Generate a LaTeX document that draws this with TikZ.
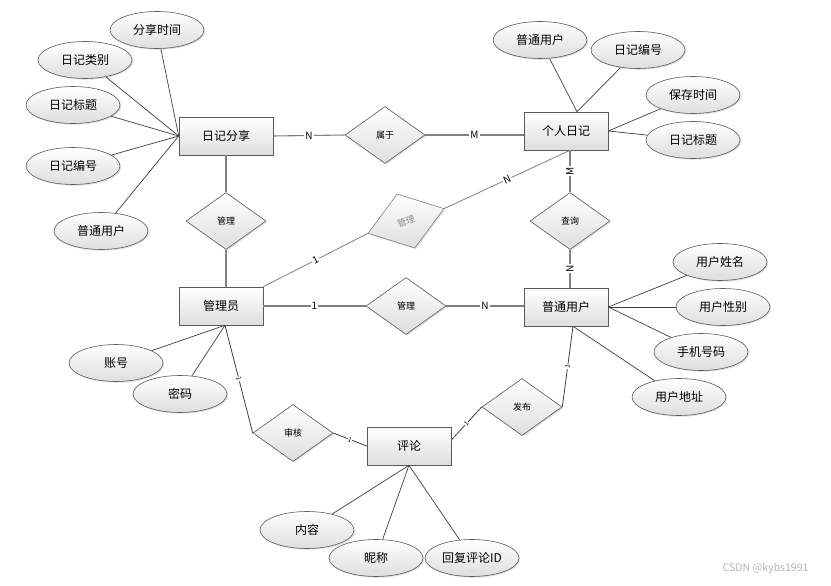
\documentclass[tikz,border=0pt]{standalone}
\usepackage{fontspec}
\setmainfont{Noto Sans CJK SC}
\usepackage{xcolor}
\definecolor{cLine}{HTML}{3F3F3F}
\definecolor{cRel}{HTML}{808080}
\definecolor{cEdge}{HTML}{5A5A5A}
\definecolor{cShade}{HTML}{DEDEDE}
\definecolor{cMark}{HTML}{8C8C8C}
\definecolor{cWater}{HTML}{B4B4B4}
\usepackage{tikz}
\usetikzlibrary{shapes.geometric,shadows}
\tikzset{
  node-entity/.style={draw=cEdge,semithick,rectangle,top color=white,bottom color=cShade,
    minimum width=84pt,minimum height=38pt,font=\fontsize{12}{14}\selectfont,
    drop shadow={shadow xshift=1.2pt,shadow yshift=-1.2pt,opacity=0.25}},
  node-attr/.style={draw=cEdge,semithick,ellipse,top color=white,bottom color=cShade,
    minimum width=94pt,minimum height=37pt,inner sep=0pt,font=\fontsize{12}{14}\selectfont,
    drop shadow={shadow xshift=1.2pt,shadow yshift=-1.2pt,opacity=0.25}},
  node-rel/.style={draw=cEdge,semithick,diamond,top color=white,bottom color=cShade,
    minimum width=80pt,minimum height=57pt,inner sep=0pt,font=\fontsize{9}{11}\selectfont,
    drop shadow={shadow xshift=1.2pt,shadow yshift=-1.2pt,opacity=0.25}},
  line-attr/.style={draw=cLine,line width=0.7pt},
  line-rel/.style={draw=cRel,line width=1.1pt},
  line-link/.style={draw=cLine,line width=0.8pt},
  lbl/.style={fill=white,inner sep=1pt,font=\fontsize{10}{12}\selectfont},
  lbl-tiny/.style={fill=white,inner sep=0.5pt,font=\fontsize{6.5}{7}\selectfont,sloped},
}

\begin{document}
\begin{tikzpicture}[x=1pt,y=-1pt]
  \useasboundingbox (0,0) rectangle (831,586);
  % 实体
  \node[node-entity,minimum width=94pt] (rz)  at (226,136) {日记分享};
  \node[node-entity] (gr)  at (566,131) {个人日记};
  \node[node-entity] (gly) at (221,306) {管理员};
  \node[node-entity] (pu)  at (566,307) {普通用户};
  \node[node-entity] (pl)  at (409,446) {评论};
  % 联系
  \node[node-rel] (sy)  at (385,135) {属于};
  \node[node-rel] (gl1) at (226,221) {管理};
  \node[node-rel,draw=cRel,text=cMark,rotate=18] (gl2) at (406,221) {管理};
  \node[node-rel] (cx)  at (570,221) {查询};
  \node[node-rel] (gl3) at (406,306) {管理};
  \node[node-rel] (sh)  at (293,433) {审核};
  \node[node-rel] (fb)  at (522,407) {发布};
  % 属性
  \node[node-attr] (rz-sj) at (157,30)  {分享时间};
  \node[node-attr] (rz-lb) at (85,60)   {日记类别};
  \node[node-attr] (rz-bt) at (73,105)  {日记标题};
  \node[node-attr] (rz-bh) at (73,166)  {日记编号};
  \node[node-attr] (rz-yh) at (101,231) {普通用户};
  \node[node-attr] (gr-yh) at (540,40)  {普通用户};
  \node[node-attr] (gr-bh) at (638,50)  {日记编号};
  \node[node-attr] (gr-sj) at (693,95)  {保存时间};
  \node[node-attr] (gr-bt) at (693,140) {日记标题};
  \node[node-attr] (gly-zh) at (116,363) {账号};
  \node[node-attr] (gly-mm) at (180,394) {密码};
  \node[node-attr] (pu-xm) at (720,262) {用户姓名};
  \node[node-attr] (pu-xb) at (723,307) {用户性别};
  \node[node-attr] (pu-sj) at (701,352) {手机号码};
  \node[node-attr] (pu-dz) at (679,397) {用户地址};
  \node[node-attr] (pl-nr) at (307,530) {内容};
  \node[node-attr] (pl-nc) at (376,558) {昵称};
  \node[node-attr] (pl-id) at (472,558) {回复评论ID};
  % 连接点
  \coordinate (gr-top) at ([xshift=11pt]gr.north);
  \coordinate (gr-bot) at ([xshift=4pt]gr.south);
  \coordinate (gly-top) at ([xshift=5pt]gly.north);
  \coordinate (gly-bot) at ([xshift=4pt]gly.south);
  \coordinate (pu-bot) at ([xshift=7pt]pu.south);
  \coordinate (pl-rt) at (pl.8);

  \foreach \a in {rz-sj,rz-lb,rz-bt,rz-bh,rz-yh}
    \draw[line-attr] (rz.west) -- (\a);
  \foreach \a in {gr-yh,gr-bh}
    \draw[line-attr] (gr-top) -- (\a);
  \foreach \a in {gr-sj,gr-bt}
    \draw[line-attr] (gr.east) -- (\a);
  \foreach \a in {gly-zh,gly-mm}
    \draw[line-attr] (gly-bot) -- (\a);
  \foreach \a in {pu-xm,pu-xb,pu-sj}
    \draw[line-attr] (pu.east) -- (\a);
  \draw[line-attr] (pu-bot) -- (pu-dz);
  \foreach \a in {pl-nr,pl-nc,pl-id}
    \draw[line-attr] (pl.south) -- (\a);

  \draw[line-rel] (rz.east) -- node[lbl]{N} (sy.west);
  \draw[line-rel] (sy.east) -- node[lbl]{M} (sy.east -| gr.west);
  \draw[line-rel] (rz.south) -- (rz.south |- gl1.north);
  \draw[line-rel] (gl1.south) -- (gly-top);
  \draw[line-rel,line width=0.8pt] (gly.north east) -- node[lbl,sloped]{1} (gl2.west);
  \draw[line-rel,line width=0.8pt] (gl2.east) -- node[lbl,sloped]{N} (gr-bot);
  \draw[line-rel] (gr-bot) -- node[lbl,rotate=90]{M} (cx.north);
  \draw[line-rel] (cx.south) -- node[lbl,rotate=90]{N} (cx.south |- pu.north);
  \draw[line-rel] (gly.east) -- node[lbl]{1} (gl3.west);
  \draw[line-rel] (gl3.east) -- node[lbl]{N} (gl3.east -| pu.west);
  \draw[line-link] (gly-bot) -- node[lbl-tiny]{1} (sh.west);
  \draw[line-link] (sh.east) -- node[lbl-tiny]{1} (pl.west);
  \draw[line-link] (pl-rt) -- node[lbl-tiny]{1} (fb.west);
  \draw[line-link] (fb.east) -- node[lbl-tiny]{1} (pu-bot);

  \node[text=cWater,font=\fontsize{10.5}{12}\selectfont,anchor=east] (mark) at (812,569) {CSDN @kybs1991};
\end{tikzpicture}
\end{document}
